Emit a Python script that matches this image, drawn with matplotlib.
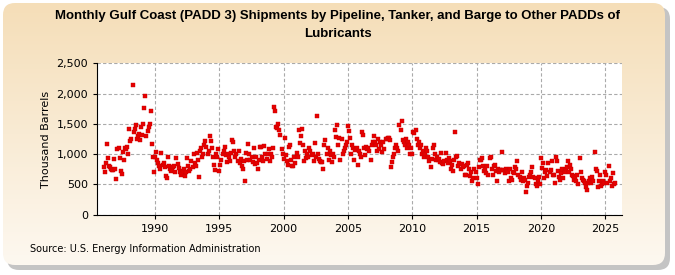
import numpy as np
import matplotlib.pyplot as plt
from matplotlib.patches import FancyBboxPatch
from matplotlib.ticker import FuncFormatter

# Monthly shipments, thousand barrels, starting Jan 1986
s1980s = [
    790, 700, 850, 1170, 930, 800, 780, 760, 740, 730, 920, 750,
    590, 1090, 1100, 930, 720, 670, 1040, 900, 1100, 1080, 1110, 1000,
    1420, 1220, 1250, 2140, 1360, 1420, 1480, 1250, 1300, 1330, 1240, 1450,
    1310, 1490, 1760, 1960, 1300, 1380, 1450, 1500, 1710, 1170, 960, 710,
]
s1990s = [
    950, 1040, 900, 850, 800, 760, 1010, 820, 850, 780, 630, 600,
    950, 800, 760, 720, 740, 780, 800, 700, 930, 830, 770, 700,
    650, 680, 720, 760, 640, 700, 930, 800, 720, 760, 880, 790,
    1000, 850, 800, 1020, 900, 620, 1050, 1100, 950, 1000, 1150, 1210,
    1120, 1000, 1050, 1300, 1210, 1100, 950, 820, 740, 1000, 950, 1080,
    720, 820, 900, 1000, 1050, 1120, 990, 870, 1000, 960, 880, 1020,
    1240, 1200, 1050, 950, 1000, 880, 1050, 860, 920, 800, 760, 880,
    550, 1020, 900, 1170, 1000, 900, 950, 870, 1100, 830, 950, 860,
    760, 900, 1120, 1120, 950, 880, 1130, 1000, 920, 1000, 1080, 880,
    1000, 950, 1100, 1780, 1720, 1450, 1430, 1490, 1400, 1310, 1080, 1000,
]
s2000s = [
    920, 1270, 980, 880, 820, 1120, 1150, 900, 810, 800, 950, 860,
    1010, 960, 1400, 1180, 1300, 1410, 1150, 880, 1050, 930, 1000, 960,
    1100, 1050, 980, 1000, 880, 1190, 950, 1630, 1000, 920, 880, 870,
    870, 750, 1150, 1230, 1000, 1100, 900, 1050, 980, 870, 1000, 960,
    1400, 1280, 1480, 1150, 1270, 900, 1250, 1000, 1050, 1100, 1150, 1200,
    1460, 1380, 1270, 1000, 1150, 1100, 900, 1060, 1100, 820, 1050, 1000,
    960, 1360, 1320, 1100, 980, 1120, 1080, 1100, 1050, 900, 1150, 1200,
    1300, 1200, 1150, 1050, 1250, 1090, 1200, 1150, 1040, 1200, 1080, 1250,
    1250, 1270, 1260, 1230, 790, 870, 950, 1000, 1100, 1150, 1100, 1050,
    1480, 1400, 1550, 1230, 1200, 1150, 1250, 1100, 1200, 1150, 1000, 1100,
]
s2010s = [
    1000, 1370, 1350, 1390, 1250, 1150, 1200, 1100, 1150, 1000, 1050, 950,
    1000, 1100, 1050, 950, 880, 790, 920, 1100, 1150, 1000, 900, 950,
    900, 920, 870, 1020, 850, 830, 880, 1020, 900, 850, 930, 880,
    760, 820, 720, 900, 1360, 960, 970, 800, 850, 750, 830, 780,
    800, 650, 660, 820, 850, 760, 630, 700, 550, 600, 760, 700,
    600, 500, 780, 900, 910, 930, 800, 720, 750, 680, 800, 650,
    930, 950, 760, 650, 800, 820, 720, 560, 760, 700, 740, 730,
    1030, 740, 680, 760, 720, 700, 560, 760, 600, 580, 700, 680,
    790, 760, 880, 650, 620, 580, 700, 560, 600, 580, 380, 480,
    520, 620, 650, 700, 790, 620, 600, 510, 480, 560, 620, 500,
]
s2020s = [
    930, 770, 850, 600, 700, 740, 640, 850, 700, 740, 880, 650,
    650, 520, 950, 880, 720, 620, 580, 680, 760, 600, 700, 760,
    780, 880, 700, 820, 760, 650, 630, 580, 620, 560, 650, 500,
    930, 700, 600, 580, 550, 530, 460, 400, 520, 560, 600, 530,
    620, 560, 1030, 760, 720, 450, 560, 650, 480, 500, 560, 520,
    700, 650, 520, 800, 560, 600, 480, 680, 500, 520,
]

values = np.array(s1980s + s1990s + s2000s + s2010s + s2020s)
years = 1986 + np.arange(len(values)) / 12

fig = plt.figure(figsize=(6.75, 2.75), dpi=100)
fig.patch.set_facecolor('white')

# rounded panel with shadow and beige gradient
bg = fig.add_axes([0, 0, 1, 1], zorder=-10)
bg.set_xlim(0, 675)
bg.set_ylim(275, 0)
bg.axis('off')
shadow = FancyBboxPatch((7, 7), 663, 263, boxstyle="round,pad=0,rounding_size=12",
                        fc='#c4c4c4', ec='none', zorder=0)
bg.add_patch(shadow)
panel = FancyBboxPatch((3, 3), 662, 262, boxstyle="round,pad=0,rounding_size=12",
                       fc='none', ec='none')
bg.add_patch(panel)
top = np.array([245, 222, 184]) / 255
bottom = np.array([253, 248, 240]) / 255
t = np.linspace(0, 1, 256)[:, None]
grad = top + (bottom - top) * t
grad = np.repeat(grad[:, None, :], 2, axis=1)
im = bg.imshow(grad, extent=[3, 665, 265, 3], aspect='auto', zorder=2)
im.set_clip_path(panel)

fig.text(0.5, 0.94, 'Monthly Gulf Coast (PADD 3) Shipments by Pipeline, Tanker, and Barge to Other PADDs of',
         ha='center', va='center', fontsize=9.5, fontweight='bold', family='Liberation Sans')
fig.text(0.5, 0.875, 'Lubricants', ha='center', va='center', fontsize=9.5,
         fontweight='bold', family='Liberation Sans')

ax = fig.add_axes([0.1437, 0.2196, 0.7778, 0.5502])
ax.set_facecolor('white')
ax.plot(years, values, linestyle='none', marker='s', markersize=3.0,
        markerfacecolor='#e60000', markeredgecolor='#c80000', markeredgewidth=0.3)

ax.set_xlim(1985.49, 2026.3)
ax.set_ylim(0, 2500)
ax.set_xticks(range(1990, 2026, 5))
ax.set_yticks(range(0, 2501, 500))
ax.yaxis.set_major_formatter(FuncFormatter(lambda v, p: f'{int(v):,}'))
ax.grid(True, color='#aaaaaa', linestyle=(0, (3, 2)), linewidth=0.8)
ax.set_axisbelow(True)
for side in ['top', 'right']:
    ax.spines[side].set_visible(False)
ax.tick_params(labelsize=8, length=3, width=0.8)
ax.set_ylabel('Thousand Barrels', fontsize=8)

fig.text(0.044, 0.095, 'Source: U.S. Energy Information Administration', fontsize=7, ha='left', va='center')

fig.savefig('out.png', dpi=100)
